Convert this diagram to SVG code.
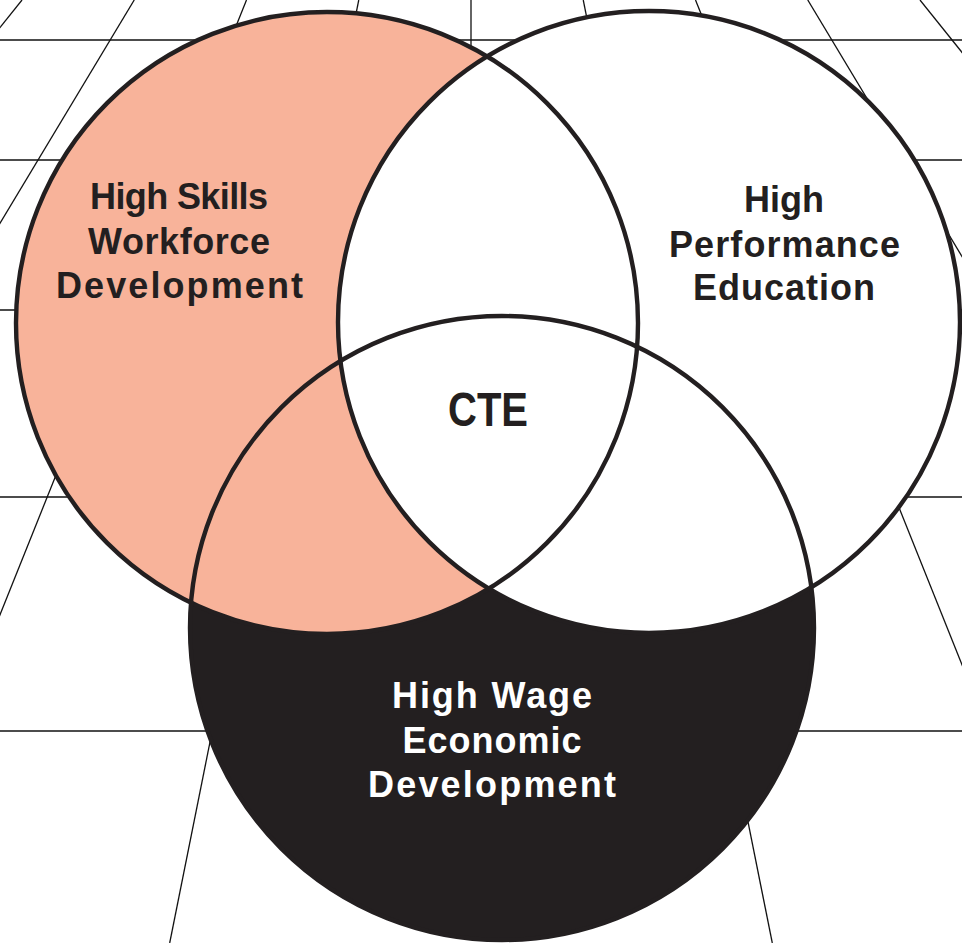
<svg xmlns="http://www.w3.org/2000/svg" width="962" height="943" viewBox="0 0 962 943">
  <style>
    .grid line { stroke: #111111; stroke-width: 1.3; }
    .outline { fill: none; stroke: #231f20; stroke-width: 4.4; }
    .lbl { font-family: "Liberation Sans", Arial, sans-serif; font-weight: bold; font-size: 36px; text-anchor: middle; fill: #231f20; }
    .lbl-w { fill: #ffffff; }
    .cte { font-size: 48px; }
  </style>
  <rect x="0" y="0" width="962" height="943" fill="#ffffff"/>
  <g id="grid" class="grid">
    <line x1="0" y1="40" x2="962" y2="40"/>
    <line x1="0" y1="160" x2="962" y2="160"/>
    <line x1="0" y1="310" x2="962" y2="310"/>
    <line x1="0" y1="497" x2="962" y2="497"/>
    <line x1="0" y1="731" x2="962" y2="731"/>
    <line x1="22" y1="0" x2="-734" y2="943"/>
    <line x1="134.25" y1="0" x2="-433" y2="943"/>
    <line x1="246.5" y1="0" x2="-131.6" y2="943"/>
    <line x1="358.75" y1="0" x2="169.7" y2="943"/>
    <line x1="471" y1="0" x2="471" y2="300"/>
    <line x1="583.25" y1="0" x2="772.3" y2="943"/>
    <line x1="695.5" y1="0" x2="1073.6" y2="943"/>
    <line x1="807.75" y1="0" x2="1374.8" y2="943"/>
    <line x1="920" y1="0" x2="1676" y2="943"/>
  </g>
  <g id="node-economic">
    <circle cx="502" cy="628" r="312" fill="#231f20"/>
    <text class="lbl lbl-w" x="492" y="708" textLength="200" lengthAdjust="spacing">High Wage</text>
    <text class="lbl lbl-w" x="492" y="753" textLength="179" lengthAdjust="spacing">Economic</text>
    <text class="lbl lbl-w" x="492" y="797" textLength="248" lengthAdjust="spacing">Development</text>
  </g>
  <g id="node-workforce">
    <circle cx="327" cy="323" r="311" fill="#f8b39a"/>
    <text class="lbl" x="179" y="209" textLength="178" lengthAdjust="spacing">High Skills</text>
    <text class="lbl" x="179" y="254" textLength="182" lengthAdjust="spacing">Workforce</text>
    <text class="lbl" x="179.5" y="298" textLength="247" lengthAdjust="spacing">Development</text>
  </g>
  <g id="node-education">
    <circle cx="649" cy="322" r="311" fill="#ffffff"/>
    <text class="lbl" x="784" y="212" textLength="80" lengthAdjust="spacing">High</text>
    <text class="lbl" x="784.5" y="257" textLength="231" lengthAdjust="spacing">Performance</text>
    <text class="lbl" x="784" y="300" textLength="182" lengthAdjust="spacing">Education</text>
  </g>
  <g id="node-cte">
    <text class="lbl cte" x="488" y="426" textLength="80" lengthAdjust="spacingAndGlyphs">CTE</text>
  </g>
  <g id="connectors">
    <circle class="outline" cx="327" cy="323" r="311"/>
    <circle class="outline" cx="649" cy="322" r="311"/>
    <circle class="outline" cx="502" cy="628" r="312"/>
  </g>
</svg>
